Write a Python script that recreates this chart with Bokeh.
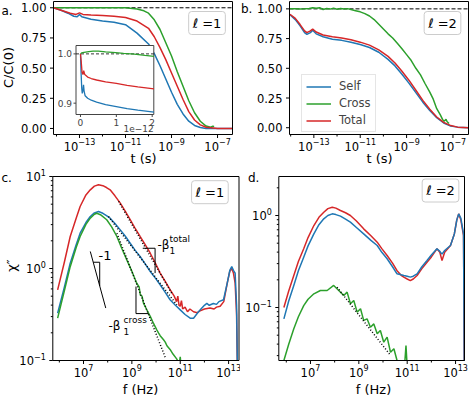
import numpy as np
from bokeh.plotting import figure
from bokeh.layouts import column, row
from bokeh.models import Range1d, LinearScale, Legend, LegendItem, Label
from bokeh.embed import file_html
from bokeh.resources import INLINE

BLUE, GREEN, RED = "#1f77b4", "#2ca02c", "#d62728"
FONT = "DejaVu Sans"

# ---------------- panel a (l=1): C/C(0) vs t, log10(t) ----------------
a_self_logt = [-14.13, -13.8, -13.5, -13.25, -13.1, -13.0, -12.9, -12.5, -12.0, -11.5, -11.0,
               -10.5, -10.0, -9.75, -9.5, -9.25, -9.0, -8.75, -8.5, -8.25, -8.0, -7.75, -7.5, -6.35]
a_self = [1.0, 0.98, 0.955, 0.93, 0.925, 0.945, 0.925, 0.905, 0.89, 0.88, 0.86,
          0.79, 0.70, 0.62, 0.52, 0.41, 0.30, 0.20, 0.12, 0.06, 0.025, 0.008, 0.0, 0.0]
a_cross_logt = [-14.13, -13.0, -12.0, -11.0, -10.5, -10.2, -10.0, -9.75, -9.5, -9.25, -9.0,
                -8.75, -8.5, -8.25, -8.0, -7.75, -7.5, -7.3, -7.2, -7.15]
a_cross = [1.0, 1.0, 1.0, 1.0, 0.99, 0.975, 0.955, 0.90, 0.82, 0.71, 0.60,
           0.47, 0.35, 0.23, 0.13, 0.06, 0.02, 0.01, 0.02, 0.015]
a_total_logt = [-14.13, -13.8, -13.4, -13.15, -13.0, -12.85, -12.5, -12.0, -11.5, -11.0, -10.5,
                -10.0, -9.75, -9.5, -9.25, -9.0, -8.75, -8.5, -8.25, -8.0, -7.75, -7.5, -7.0, -6.35]
a_total = [1.0, 0.98, 0.955, 0.945, 0.958, 0.945, 0.94, 0.935, 0.93, 0.92, 0.89,
           0.83, 0.76, 0.67, 0.57, 0.46, 0.35, 0.24, 0.14, 0.07, 0.03, 0.01, 0.0, 0.0]

# inset of panel a: t in units of 1e-12 s
in_self_t = [0, 0.015, 0.035, 0.05, 0.065, 0.085, 0.1, 0.13, 0.2, 0.3, 0.45, 0.7, 1.0, 1.3, 1.6, 2.05]
in_self = [1.0, 0.965, 0.93, 0.92, 0.925, 0.937, 0.925, 0.915, 0.91, 0.906, 0.902, 0.897, 0.893, 0.889, 0.886, 0.882]
in_cross_t = [0, 0.03, 0.1, 0.23, 0.35, 0.5, 0.7, 0.98, 1.2, 1.5, 1.8, 2.05]
in_cross = [1.0, 1.002, 1.003, 1.0045, 1.0055, 1.0055, 1.004, 1.0025, 1.001, 0.9995, 0.997, 0.995]
in_total_t = [0, 0.02, 0.045, 0.07, 0.09, 0.12, 0.2, 0.3, 0.45, 0.7, 1.0, 1.3, 1.6, 2.05]
in_total = [1.0, 0.985, 0.962, 0.958, 0.966, 0.958, 0.953, 0.950, 0.947, 0.943, 0.940, 0.936, 0.933, 0.929]
in_xticks = [0, 1, 2]
in_yticks = [0.9, 1.0]

# ---------------- panel b (l=2) ----------------
b_self_logt = [-14.03, -13.8, -13.6, -13.4, -13.3, -13.15, -13.05, -12.9, -12.6, -12.2, -11.8, -11.4,
               -11.0, -10.6, -10.2, -9.8, -9.5, -9.2, -8.9, -8.6, -8.3, -8.0, -7.7, -7.4, -7.1, -6.8, -6.33]
b_self = [0.95, 0.91, 0.86, 0.80, 0.785, 0.80, 0.82, 0.79, 0.765, 0.745, 0.735, 0.72,
          0.70, 0.675, 0.635, 0.575, 0.52, 0.45, 0.375, 0.295, 0.215, 0.145, 0.085, 0.04, 0.015, 0.005, 0.0]
b_total_logt = b_self_logt
b_total = [0.955, 0.92, 0.87, 0.815, 0.80, 0.815, 0.83, 0.805, 0.78, 0.765, 0.755, 0.74,
           0.72, 0.695, 0.655, 0.60, 0.545, 0.475, 0.40, 0.315, 0.23, 0.155, 0.09, 0.045, 0.018, 0.005, 0.0]
b_cross_logt = [-14.03, -13.8, -13.6, -13.4, -13.2, -13.05, -12.9, -12.75, -12.6, -12.45, -12.3, -12.15,
                -12.0, -11.85, -11.7, -11.55, -11.4, -11.2, -11.0, -10.8, -10.6, -10.4, -10.2, -10.0,
                -9.8, -9.6, -9.4, -9.2, -9.0, -8.8, -8.6, -8.4, -8.2, -8.0, -7.85, -7.7, -7.55, -7.45,
                -7.38, -7.3, -7.25, -7.17]
b_cross = [1.0, 1.0, 0.998, 1.0, 1.003, 1.01, 1.005, 1.01, 0.995, 1.003, 0.998, 1.006,
           0.997, 1.003, 0.999, 1.002, 0.995, 0.985, 0.975, 0.96, 0.94, 0.91, 0.87, 0.83,
           0.79, 0.755, 0.71, 0.665, 0.615, 0.565, 0.50, 0.445, 0.37, 0.30, 0.24, 0.16, 0.11, 0.07,
           0.055, 0.07, 0.05, 0.035]

# ---------------- panel c (l=1): chi'' vs f, log10 values ----------------
c_total_logf = [5.93, 6.2, 6.45, 6.7, 6.86, 7.1, 7.28, 7.45, 7.62, 7.8, 7.95, 8.1, 8.3, 8.52, 8.73,
                8.93, 9.13, 9.34, 9.55, 9.76, 9.97, 10.17, 10.38, 10.58, 10.75, 10.85, 10.9, 10.95,
                11.0, 11.05, 11.1, 11.2, 11.3, 11.4, 11.55, 11.7, 11.82, 12.0, 12.23, 12.4, 12.5,
                12.65, 12.8, 12.95, 13.05, 13.13, 13.2, 13.27, 13.33, 13.37]
c_total_logchi = [-0.232, 0.06, 0.348, 0.55, 0.674, 0.8, 0.855, 0.895, 0.91, 0.9, 0.88, 0.855, 0.79,
                  0.71, 0.62, 0.53, 0.44, 0.348, 0.26, 0.166, 0.06, -0.05, -0.14, -0.23, -0.3, -0.36,
                  -0.3, -0.4, -0.41, -0.35, -0.44, -0.42, -0.47, -0.44, -0.47, -0.48, -0.46, -0.44,
                  -0.43, -0.44, -0.42, -0.41, -0.36, -0.15, -0.03, 0.0, -0.05, -0.16, -0.5, -1.2]
c_self_logf = [5.93, 6.2, 6.45, 6.7, 6.86, 7.1, 7.28, 7.45, 7.62, 7.8, 7.95, 8.1, 8.3, 8.52, 8.73,
               8.93, 9.13, 9.34, 9.55, 9.76, 9.97, 10.17, 10.38, 10.58, 10.8, 11.0, 11.2, 11.41,
               11.55, 11.7, 11.82, 12.0, 12.1, 12.2, 12.37, 12.5, 12.6, 12.79, 12.95, 13.05, 13.13,
               13.2, 13.27, 13.33, 13.37]
c_self_logchi = [-0.486, -0.21, 0.058, 0.26, 0.384, 0.5, 0.565, 0.605, 0.62, 0.6, 0.575, 0.547, 0.49,
                 0.42, 0.35, 0.275, 0.2, 0.13, 0.05, -0.033, -0.105, -0.177, -0.26, -0.34, -0.4, -0.45,
                 -0.5, -0.54, -0.54, -0.49, -0.45, -0.4, -0.38, -0.4, -0.38, -0.39, -0.36, -0.34,
                 -0.15, -0.02, 0.02, -0.02, -0.05, -0.4, -1.2]
c_cross_logf = [5.93, 6.2, 6.45, 6.7, 6.86, 7.1, 7.28, 7.45, 7.55, 7.7, 7.96, 8.17, 8.38, 8.58, 8.79,
                9.0, 9.2, 9.3, 9.35, 9.42, 9.48, 9.6, 9.76, 9.9, 10.03, 10.1, 10.17, 10.31, 10.38,
                10.45, 10.58, 10.7, 10.86, 10.95, 11.0, 11.05, 11.2]
c_cross_logchi = [-0.54, -0.25, 0.02, 0.23, 0.348, 0.48, 0.547, 0.59, 0.60, 0.585, 0.53, 0.45, 0.348,
                  0.22, 0.094, -0.03, -0.16, -0.2, -0.29, -0.3, -0.377, -0.44, -0.52, -0.6, -0.667,
                  -0.70, -0.73, -0.775, -0.8, -0.84, -0.88, -0.93, -0.985, -1.05, -0.96, -1.1, -1.2]
# power-law fits (dotted), endpoints in log10
c_fit_total_logf = [8.45, 10.65]
c_fit_total_logchi = [0.73, -0.27]
c_fit_self_logf = [8.03, 10.86]
c_fit_self_logchi = [0.565, -0.395]
c_fit_cross_logf = [8.38, 10.4]
c_fit_cross_logchi = [0.384, -0.98]
# slope -1 guide and slope triangles (log10 corners)
c_guide_logf = [7.28, 7.92]
c_guide_logchi = [0.185, -0.43]
c_tri1_logf, c_tri1_logchi = [7.40, 7.67, 7.67], [0.068, 0.068, -0.19]
c_tri_tot_logf, c_tri_tot_logchi = [9.45, 9.96, 9.96], [0.22, 0.22, -0.05]
c_tri_cr_logf, c_tri_cr_logchi = [9.17, 9.17, 9.69], [-0.196, -0.49, -0.49]

# ---------------- panel d (l=2) ----------------
d_total_logf = [5.90, 6.1, 6.31, 6.5, 6.72, 6.9, 7.14, 7.35, 7.55, 7.72, 7.90, 8.05, 8.24, 8.45, 8.65,
                8.9, 9.2, 9.5, 9.76, 9.95, 10.17, 10.4, 10.58, 10.75, 10.86, 11.0, 11.13, 11.25, 11.41,
                11.6, 11.82, 12.0, 12.23, 12.35, 12.44, 12.55, 12.79, 12.95, 13.05, 13.13, 13.22,
                13.33, 13.36]
d_total_logchi = [-1.0, -0.82, -0.652, -0.50, -0.362, -0.24, -0.109, -0.02, 0.036, 0.075, 0.09, 0.08,
                  0.054, 0.03, 0.0, -0.06, -0.145, -0.22, -0.29, -0.36, -0.435, -0.52, -0.6, -0.65,
                  -0.67, -0.69, -0.707, -0.69, -0.652, -0.58, -0.508, -0.45, -0.362, -0.40, -0.49,
                  -0.40, -0.326, -0.2, -0.05, 0.018, -0.05, -0.22, -1.6]
d_self_logf = d_total_logf
d_self_logchi = [-1.123, -0.93, -0.76, -0.60, -0.453, -0.33, -0.2, -0.1, -0.036, 0.0, 0.018, 0.01,
                 -0.007, -0.04, -0.072, -0.13, -0.2, -0.27, -0.326, -0.40, -0.47, -0.56, -0.634, -0.645,
                 -0.652, -0.66, -0.67, -0.66, -0.634, -0.56, -0.49, -0.43, -0.362, -0.39, -0.42,
                 -0.38, -0.326, -0.2, -0.05, 0.018, -0.03, -0.2, -1.6]
d_cross_logf = [5.90, 6.1, 6.31, 6.5, 6.72, 6.9, 7.14, 7.41, 7.69, 7.96, 8.17, 8.377, 8.515, 8.653,
                8.79, 8.93, 9.07, 9.2, 9.34, 9.48, 9.62, 9.76, 9.89, 10.03, 10.17, 10.31, 10.45,
                10.58, 10.7, 10.9, 10.95, 11.0, 11.2]
d_cross_logchi = [-1.576, -1.40, -1.232, -1.10, -0.98, -0.91, -0.851, -0.815, -0.815, -0.76, -0.815,
                  -0.87, -0.833, -0.96, -0.924, -1.05, -1.014, -1.14, -1.123, -1.214, -1.178, -1.286,
                  -1.25, -1.377, -1.322, -1.486, -1.449, -1.576, -1.7, -1.6, -1.413, -1.65, -1.8]
d_fit_cross_logf = [8.10, 10.31]
d_fit_cross_logchi = [-0.779, -1.52]

# tick values
t_major = [1e-13, 1e-11, 1e-9, 1e-7]
t_minor = [1e-14, 1e-12, 1e-10, 1e-8]
f_major = [1e7, 1e9, 1e11, 1e13]
f_minor = [1e6, 1e8, 1e10, 1e12]
cc_major = [0.0, 0.25, 0.5, 0.75, 1.0]
c_y_major = [0.1, 1.0, 10.0]
c_y_minor = [0.2, 0.3, 0.4, 0.5, 0.6, 0.7, 0.8, 0.9, 2, 3, 4, 5, 6, 7, 8, 9]
d_y_major = [0.1, 1.0]
d_y_minor = [0.03, 0.04, 0.05, 0.06, 0.07, 0.08, 0.09, 0.2, 0.3, 0.4, 0.5, 0.6, 0.7, 0.8, 0.9, 2]

CW = {"0": .636, "1": .636, "2": .636, "3": .636, "4": .636, "5": .636, "6": .636, "7": .636,
      "8": .636, "9": .636, "\u2212": .838, ".": .318, "-": .361}
FS, FE = 11.5, 8.0  # tick label size, exponent size


def text_w(s, size):
    return sum(CW.get(c, 0.6) for c in s) * size


def pw(vals):
    return [10.0 ** v for v in vals]


class Panel:
    def __init__(self, origin, size, box, xlim, ylim, xlog, ylog):
        self.ox, self.oy = origin
        self.W, self.H = size
        self.L, self.T = box[0] - self.ox, box[1] - self.oy
        self.R, self.B = box[2] - self.ox, box[3] - self.oy
        self.xlog, self.ylog = xlog, ylog
        self.xlim, self.ylim = xlim, ylim
        self.kx = (xlim[1] - xlim[0]) / (self.R - self.L)
        self.ky = (ylim[1] - ylim[0]) / (self.B - self.T)
        self.x0 = xlim[0] - self.L * self.kx
        self.ytop = ylim[1] + self.T * self.ky
        xr = Range1d(self._ix(self.x0), self._ix(self.x0 + self.W * self.kx))
        yr = Range1d(self._iy(self.ytop - self.H * self.ky), self._iy(self.ytop))
        p = figure(width=self.W, height=self.H, x_axis_type="log" if xlog else "linear",
                   y_axis_type="log" if ylog else "linear", x_range=xr, y_range=yr,
                   output_backend="svg", toolbar_location=None, x_axis_location=None,
                   y_axis_location=None, min_border=0)
        p.outline_line_color = None
        p.grid.visible = False
        p.background_fill_color = "white"
        p.border_fill_color = "white"
        self.p = p

    def _ix(self, u):
        return 10.0 ** u if self.xlog else u

    def _iy(self, u):
        return 10.0 ** u if self.ylog else u

    # local pixel -> data
    def X(self, px):
        return self._ix(self.x0 + px * self.kx)

    def Y(self, py):
        return self._iy(self.ytop - py * self.ky)

    # data -> local pixel
    def PX(self, v):
        u = np.log10(v) if self.xlog else v
        return (u - self.x0) / self.kx

    def PY(self, v):
        u = np.log10(v) if self.ylog else v
        return (self.ytop - u) / self.ky

    def text(self, gx, gy, text, size, align="left", baseline="middle", angle=0, local=False, **kw):
        px, py = (gx, gy) if local else (gx - self.ox, gy - self.oy)
        self.p.add_layout(Label(x=self.X(px), y=self.Y(py), text=text, text_font=FONT,
                                text_font_size=f"{size}px", text_align=align,
                                text_baseline=baseline, angle=angle, angle_units="deg",
                                text_color="black", **kw))

    def mask_and_frame(self):
        W, H, L, T, R, B = self.W, self.H, self.L, self.T, self.R, self.B
        self.p.quad(left=[self.X(-5), self.X(R + 0.5), self.X(-5), self.X(-5)],
                    right=[self.X(L - 0.5), self.X(W + 5), self.X(W + 5), self.X(W + 5)],
                    top=[self.Y(-5), self.Y(-5), self.Y(-5), self.Y(B + 0.5)],
                    bottom=[self.Y(H + 5), self.Y(H + 5), self.Y(T - 0.5), self.Y(H + 5)],
                    fill_color="white", line_color=None)
        self.p.quad(left=[self.X(L)], right=[self.X(R)], top=[self.Y(T)], bottom=[self.Y(B)],
                    fill_color=None, line_color="black", line_width=1)

    def xticks(self, majors, minors):
        B = self.B
        for vals, ln in ((majors, 3.5), (minors, 2.0)):
            self.p.segment(x0=vals, x1=vals, y0=[self.Y(B)] * len(vals), y1=[self.Y(B + ln)] * len(vals),
                           line_color="black", line_width=1)

    def yticks(self, majors, minors):
        L = self.L
        for vals, ln in ((majors, 3.5), (minors, 2.0)):
            self.p.segment(y0=vals, y1=vals, x0=[self.X(L)] * len(vals), x1=[self.X(L - ln)] * len(vals),
                           line_color="black", line_width=1)

    def xlabels_pow(self, majors):
        for v in majors:
            e = str(int(round(np.log10(v)))).replace("-", "\u2212")
            wb, we = text_w("10", FS), text_w(e, FE)
            left = self.PX(v) - (wb + we) / 2
            self.text(left, self.B + 11.5, "10", FS, local=True)
            self.text(left + wb, self.B + 7.0, e, FE, local=True)

    def ylabels_pow(self, majors):
        for v in majors:
            e = str(int(round(np.log10(v)))).replace("-", "\u2212")
            we = text_w(e, FE)
            cy = self.PY(v)
            self.text(self.L - 7, cy - 4.0, e, FE, align="right", local=True)
            self.text(self.L - 7 - we, cy, "10", FS, align="right", local=True)

    def ylabels_lin(self, majors):
        for v in majors:
            self.text(self.L - 7, self.PY(v), f"{v:.2f}", FS, align="right", local=True)

    def ell_box(self, gx, gy, text):
        self.text(gx, gy, text, 13, align="center", background_fill_color="white",
                  background_fill_alpha=0.8, border_line_color="#cccccc", border_line_width=1,
                  padding=4, border_radius=3)


# ================= panel a =================
A = Panel((0, 0), (240, 165), (53, 1, 232, 134), (-14.13, -6.35), (-0.05, 1.052), True, False)
pa = A.p
pa.line([A._ix(A.xlim[0]), A._ix(A.xlim[1])], [1.0, 1.0], line_color="black", line_dash="4 2", line_width=1)
pa.line(pw(a_self_logt), a_self, line_color=BLUE, line_width=1.5)
pa.line(pw(a_cross_logt), a_cross, line_color=GREEN, line_width=1.5)
pa.line(pw(a_total_logt), a_total, line_color=RED, line_width=1.5)

# inset (its own linear ranges, box given in page pixels)
in_xlim = (-0.125, 2.045)
in_ylim = (0.877, 1.017)
in_box = (75.5, 45, 153.3, 114)
ikx = (in_xlim[1] - in_xlim[0]) / (in_box[2] - in_box[0])
iky = (in_ylim[1] - in_ylim[0]) / (in_box[3] - in_box[1])
ix0 = in_xlim[0] - in_box[0] * ikx
iytop = in_ylim[1] + in_box[1] * iky
pa.extra_x_ranges = {"ix": Range1d(ix0, ix0 + 240 * ikx)}
pa.extra_x_scales = {"ix": LinearScale()}
pa.extra_y_ranges = {"iy": Range1d(iytop - 165 * iky, iytop)}
pa.extra_y_scales = {"iy": LinearScale()}
IR = dict(x_range_name="ix", y_range_name="iy")
pa.quad(left=[in_xlim[0]], right=[in_xlim[1]], bottom=[in_ylim[0]], top=[in_ylim[1]],
        fill_color="white", line_color="#444444", line_width=1, **IR)
pa.line([in_xlim[0], in_xlim[1]], [1.0, 1.0], line_color="black", line_dash="3 2", line_width=0.8, **IR)
pa.line(in_self_t, in_self, line_color=BLUE, line_width=1.3, **IR)
pa.line(in_cross_t, in_cross, line_color=GREEN, line_width=1.3, **IR)
pa.line(in_total_t, in_total, line_color=RED, line_width=1.3, **IR)
pa.segment(x0=in_xticks, x1=in_xticks, y0=[in_ylim[0]] * 3, y1=[in_ylim[0] - 2.5 * iky] * 3,
           line_color="#444444", **IR)
pa.segment(x0=[in_xlim[0]] * 2, x1=[in_xlim[0] - 2.5 * ikx] * 2, y0=in_yticks, y1=in_yticks,
           line_color="#444444", **IR)
for t in in_xticks:
    pa.add_layout(Label(x=t, y=in_ylim[0] - 4.0 * iky, text=str(t), text_font=FONT, text_font_size="9px",
                        text_align="center", text_baseline="top", **IR))
for v in in_yticks:
    pa.add_layout(Label(x=in_xlim[0] - 4.0 * ikx, y=v, text=f"{v:.1f}", text_font=FONT, text_font_size="9px",
                        text_align="right", text_baseline="middle", **IR))
pa.add_layout(Label(x=in_xlim[1], y=iytop - 128 * iky, text="1e\u221212", text_font=FONT,
                    text_font_size="9px", text_align="right", text_baseline="middle", **IR))

A.mask_and_frame()
A.xticks(t_major, t_minor)
A.yticks(cc_major, [])
A.xlabels_pow(t_major)
A.ylabels_lin(cc_major)
A.text(143, 157.5, "t (s)", 13, align="center")
A.text(8, 67, "C/C(0)", 13, align="center", angle=90)
A.text(1, 10, "a.", 12)
A.ell_box(206.5, 22.5, "\u2113 =1")

# ================= panel b =================
Bp = Panel((240, 0), (229, 165), (289, 1, 468, 134), (-14.05, -6.33), (-0.057, 1.062), True, False)
pb = Bp.p
pb.line([Bp._ix(Bp.xlim[0]), Bp._ix(Bp.xlim[1])], [1.0, 1.0], line_color="black", line_dash="4 2", line_width=1)
rs = pb.line(pw(b_self_logt), b_self, line_color=BLUE, line_width=1.5)
rc = pb.line(pw(b_cross_logt), b_cross, line_color=GREEN, line_width=1.5)
rt = pb.line(pw(b_total_logt), b_total, line_color=RED, line_width=1.5)
Bp.mask_and_frame()
Bp.xticks(t_major, t_minor)
Bp.yticks(cc_major, [])
Bp.xlabels_pow(t_major)
Bp.ylabels_lin(cc_major)
Bp.text(379, 157.5, "t (s)", 13, align="center")
Bp.text(240.5, 8, "b.", 12)
Bp.ell_box(442, 22.5, "\u2113 =2")
leg = Legend(items=[LegendItem(label="Self", renderers=[rs]),
                    LegendItem(label="Cross", renderers=[rc]),
                    LegendItem(label="Total", renderers=[rt])],
             location=(61, 33))
leg.label_text_font = FONT
leg.label_text_font_size = "11.5px"
leg.glyph_width = 25
leg.glyph_height = 13
leg.label_height = 13
leg.label_standoff = 8
leg.spacing = 3
leg.padding = 4
leg.margin = 0
leg.border_line_color = "#cccccc"
leg.border_line_width = 1
leg.background_fill_alpha = 0.8
pb.add_layout(leg)

# ================= panel c =================
C = Panel((0, 165), (240, 233), (52.3, 176, 238.5, 360), (5.73, 13.43), (-1.0, 1.0), True, True)
pc = C.p
pc.line(pw(c_total_logf), pw(c_total_logchi), line_color=RED, line_width=1.5)
pc.line(pw(c_self_logf), pw(c_self_logchi), line_color=BLUE, line_width=1.5)
pc.line(pw(c_cross_logf), pw(c_cross_logchi), line_color=GREEN, line_width=1.5)
for fx, fy in ((c_fit_total_logf, c_fit_total_logchi), (c_fit_self_logf, c_fit_self_logchi),
               (c_fit_cross_logf, c_fit_cross_logchi)):
    pc.line(pw(fx), pw(fy), line_color="black", line_dash="1 2", line_width=1.5)
pc.line(pw(c_guide_logf), pw(c_guide_logchi), line_color="black", line_width=1)
pc.line(pw(c_tri1_logf), pw(c_tri1_logchi), line_color="black", line_width=1)
pc.line(pw(c_tri_tot_logf), pw(c_tri_tot_logchi), line_color="black", line_width=1)
pc.line(pw(c_tri_cr_logf), pw(c_tri_cr_logchi), line_color="black", line_width=1)
C.mask_and_frame()
C.xticks(f_major, f_minor)
C.yticks(c_y_major, c_y_minor)
C.xlabels_pow(f_major)
C.ylabels_pow(c_y_major)
C.text(140, 389, "f (Hz)", 13, align="center")
C.text(11, 265, "\u03c7\u2033", 13, align="center", angle=90)
C.text(1, 177.5, "c.", 12)
C.text(98, 254.5, "-1", 13)
C.text(157, 244, "-\u03b2", 12)
C.text(169, 238.5, "total", 9)
C.text(169, 250, "1", 9)
C.text(108, 325, "-\u03b2", 12)
C.text(123, 319.5, "cross", 9)
C.text(123, 330.5, "1", 9)
C.ell_box(209.4, 191.7, "\u2113 =1")

# ================= panel d =================
D = Panel((240, 165), (229, 233), (278.3, 176, 464, 360), (5.69, 13.37), (-1.576, 0.424), True, True)
pd_ = D.p
pd_.line(pw(d_total_logf), pw(d_total_logchi), line_color=RED, line_width=1.5)
pd_.line(pw(d_self_logf), pw(d_self_logchi), line_color=BLUE, line_width=1.5)
pd_.line(pw(d_cross_logf), pw(d_cross_logchi), line_color=GREEN, line_width=1.5)
pd_.line(pw(d_fit_cross_logf), pw(d_fit_cross_logchi), line_color="black", line_dash="1 2", line_width=1.5)
D.mask_and_frame()
D.xticks(f_major, f_minor)
D.yticks(d_y_major, d_y_minor)
D.xlabels_pow(f_major)
D.ylabels_pow(d_y_major)
D.text(373, 389, "f (Hz)", 13, align="center")
D.text(247.5, 177.5, "d.", 12)
D.ell_box(440, 190, "\u2113 =2")

layout = column(row(pa, pb), row(pc, pd_))
open("out.html", "w").write(file_html(layout, INLINE))
